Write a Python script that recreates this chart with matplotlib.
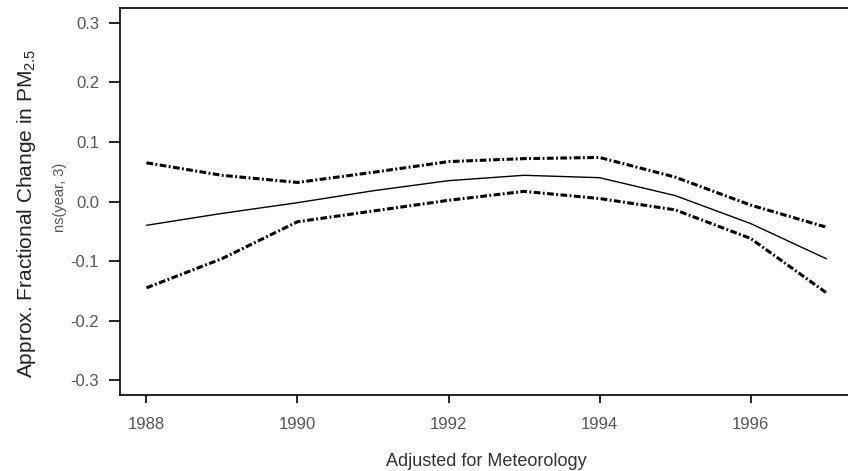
import matplotlib
matplotlib.use("Agg")
import matplotlib.pyplot as plt

plt.rcParams['font.family'] = ['Liberation Sans', 'DejaVu Sans']
plt.rcParams['mathtext.default'] = 'regular'

# values
years = [1988, 1989, 1990, 1991, 1992, 1993, 1994, 1995, 1996, 1997]
fit = [-0.040, -0.020, -0.002, 0.018, 0.035, 0.044, 0.040, 0.010, -0.037, -0.096]
upper = [0.065, 0.044, 0.032, 0.049, 0.067, 0.072, 0.074, 0.041, -0.006, -0.043]
lower = [-0.145, -0.096, -0.034, -0.016, 0.002, 0.017, 0.005, -0.014, -0.062, -0.153]

x_ticks = [1988, 1990, 1992, 1994, 1996]
y_ticks = [-0.3, -0.2, -0.1, 0.0, 0.1, 0.2, 0.3]

W, H = 848, 471
fig = plt.figure(figsize=(W / 100, H / 100), dpi=100)
ax = fig.add_axes([120 / W, 1 - 395 / H, 1 - 120 / W, (395 - 8) / H])

band_style = (0, (2.2, 0.8, 0.6, 0.8))
ax.plot(years, upper, color='black', lw=2.2, linestyle=band_style)
ax.plot(years, lower, color='black', lw=2.2, linestyle=band_style)
ax.plot(years, fit, color='black', lw=1.0)

ax.set_xlim(1987.65, 1997.29)
ax.set_ylim(-0.325, 0.325)
ax.set_xticks(x_ticks)
ax.set_yticks(y_ticks)
ax.set_yticklabels(['%.1f' % v for v in y_ticks])

ax.spines['right'].set_visible(False)
for s in ['left', 'bottom', 'top']:
    ax.spines[s].set_linewidth(1.2)
ax.tick_params(axis='both', width=1.2, labelsize=12, labelcolor='#555555')
ax.tick_params(axis='x', length=6, pad=10)
ax.tick_params(axis='y', length=8, pad=7)

fig.text(486 / W, 1 - 462 / H, 'Adjusted for Meteorology', ha='center', va='center',
         fontsize=13, color='#333333')
fig.text(27 / W, 1 - 213 / H, 'Approx. Fractional Change in PM$_{2.5}$', rotation=90,
         ha='center', va='center', fontsize=15, color='#222222')
fig.text(60 / W, 1 - 197 / H, 'ns(year, 3)', rotation=90, ha='center', va='center',
         fontsize=10.5, color='#555555')

fig.savefig('out.png', dpi=100)
